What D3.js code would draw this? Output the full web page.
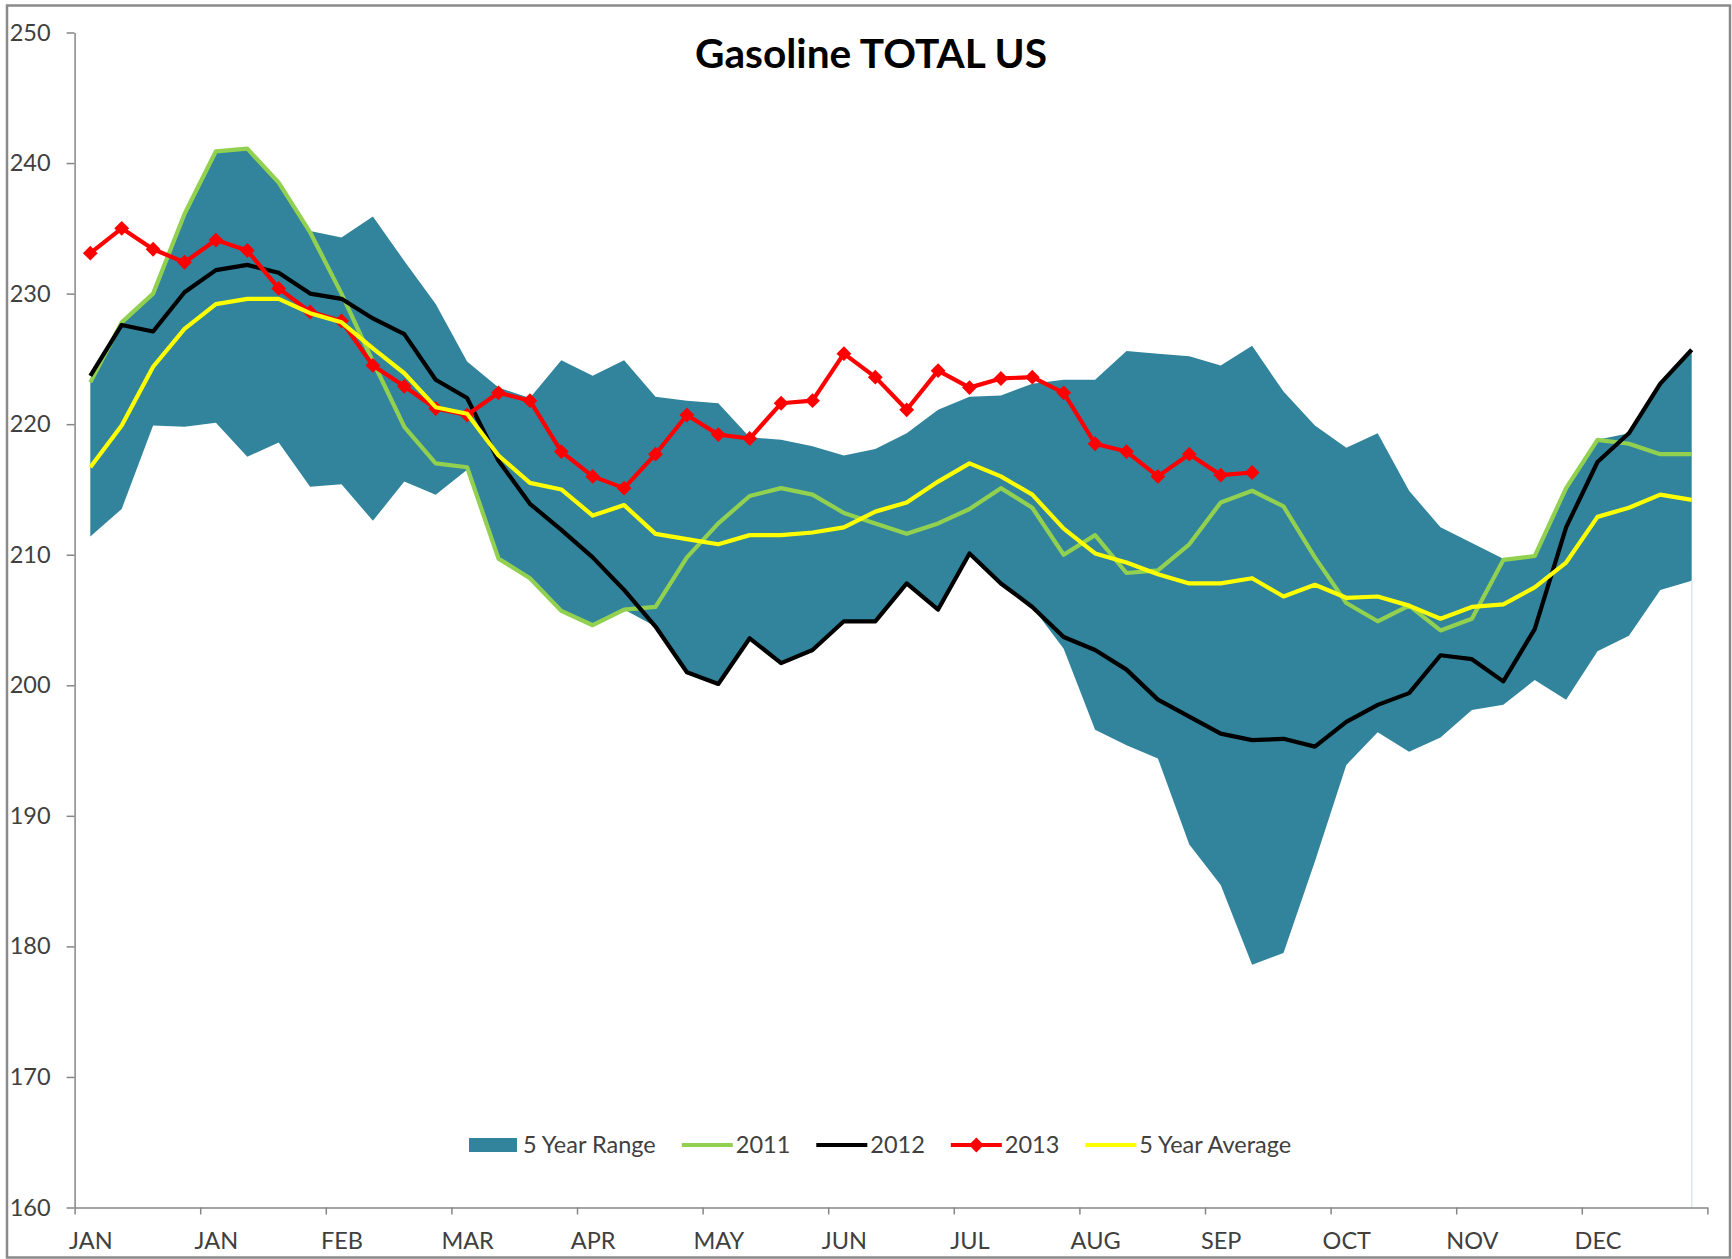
<!DOCTYPE html>
<html>
<head>
<meta charset="utf-8">
<script src="https://cdnjs.cloudflare.com/ajax/libs/d3/7.8.5/d3.min.js"></script>
<style>
body { margin: 0; background: #fff; }
svg { display: block; }
</style>
</head>
<body>
<div class="d3Graph"></div>
<script>
// month label shown every 4th week
var monthLabels = ["JAN", "JAN", "FEB", "MAR", "APR", "MAY", "JUN", "JUL", "AUG", "SEP", "OCT", "NOV", "DEC"];
var yTicks = [160, 170, 180, 190, 200, 210, 220, 230, 240, 250];

var rangeHigh = [223.3, 227.8, 230.1, 236.2, 240.9, 241.1, 238.5, 234.8, 234.3, 235.9, 232.5, 229.2, 224.8,
                 222.8, 222.0, 224.9, 223.7, 224.9, 222.1, 221.8, 221.6, 219.0, 218.8, 218.3, 217.6, 218.1,
                 219.3, 221.1, 222.1, 222.2, 223.1, 223.4, 223.4, 225.6, 225.4, 225.2, 224.5, 226.0, 222.5,
                 219.9, 218.2, 219.3, 214.9, 212.1, 210.9, 209.7, 209.9, 215.1, 218.8, 219.3, 223.1, 225.7];
var rangeLow = [211.4, 213.5, 219.9, 219.8, 220.1, 217.5, 218.6, 215.2, 215.4, 212.6, 215.6, 214.6, 216.5,
                209.7, 208.2, 205.7, 204.6, 205.8, 204.5, 201.0, 200.1, 203.6, 201.7, 202.7, 204.9, 204.9,
                207.8, 205.8, 210.1, 207.8, 206.0, 202.8, 196.6, 195.4, 194.4, 187.8, 184.7, 178.6, 179.5,
                186.5, 193.9, 196.4, 194.9, 196.0, 198.1, 198.5, 200.4, 198.9, 202.6, 203.8, 207.3, 208.0];
var y2011 = [223.2, 227.8, 230.0, 236.1, 240.9, 241.1, 238.5, 234.7, 230.0, 224.8, 219.8, 217.0, 216.7,
             209.7, 208.2, 205.7, 204.6, 205.8, 206.0, 209.8, 212.4, 214.5, 215.1, 214.6, 213.2, 212.4,
             211.6, 212.4, 213.5, 215.1, 213.6, 210.0, 211.5, 208.6, 208.8, 210.8, 214.0, 214.9, 213.7,
             209.8, 206.3, 204.9, 206.1, 204.2, 205.1, 209.6, 209.9, 215.1, 218.8, 218.5, 217.7, 217.7];
var y2012 = [223.7, 227.6, 227.1, 230.1, 231.8, 232.2, 231.6, 230.0, 229.6, 228.1, 226.9, 223.4, 222.0,
             217.2, 213.9, 211.9, 209.8, 207.3, 204.5, 201.0, 200.1, 203.6, 201.7, 202.7, 204.9, 204.9,
             207.8, 205.8, 210.1, 207.8, 206.0, 203.7, 202.7, 201.2, 198.9, 197.6, 196.3, 195.8, 195.9,
             195.3, 197.2, 198.5, 199.4, 202.3, 202.0, 200.3, 204.3, 212.1, 217.1, 219.3, 223.1, 225.7];
var y2013 = [233.1, 235.0, 233.4, 232.4, 234.1, 233.3, 230.4, 228.6, 227.9, 224.5, 222.9, 221.2, 220.7,
             222.4, 221.8, 217.9, 216.0, 215.1, 217.7, 220.7, 219.2, 218.9, 221.6, 221.8, 225.4, 223.6,
             221.1, 224.1, 222.8, 223.5, 223.6, 222.4, 218.5, 217.9, 216.0, 217.7, 216.1, 216.3];
var avg5 = [216.7, 219.9, 224.4, 227.3, 229.2, 229.6, 229.6, 228.5, 227.8, 225.8, 223.9, 221.3, 220.8,
            217.6, 215.5, 215.0, 213.0, 213.8, 211.6, 211.2, 210.8, 211.5, 211.5, 211.7, 212.1, 213.3,
            214.0, 215.6, 217.0, 216.0, 214.6, 212.0, 210.1, 209.4, 208.5, 207.8, 207.8, 208.2, 206.8,
            207.7, 206.7, 206.8, 206.1, 205.1, 206.0, 206.2, 207.5, 209.4, 212.9, 213.6, 214.6, 214.2];

var seriesNames = ["5 Year Range", "2011", "2012", "2013", "5 Year Average"];
var seriesColors = ["#31849b", "#92d050", "#000000", "#ff0000", "#ffff00"];

var width = 1732, height = 1259;
var plotLeft = 74.6, plotRight = 1707.4, plotTop = 32.5, plotBottom = 1207.5;
var nWeeks = rangeHigh.length;
var font = "Lato, 'Open Sans', sans-serif";
var labelSize = 23.5;
var lineWidth = 4.2;

var svg = d3.select(".d3Graph")
    .append("svg")
    .attr("width", width)
    .attr("height", height);

svg.append("rect")
    .attr("x", 7).attr("y", 5.5)
    .attr("width", 1723).attr("height", 1252)
    .attr("fill", "#fff")
    .attr("stroke", "#8a8a8a")
    .attr("stroke-width", 2.5);

var x = d3.scaleLinear().domain([0, nWeeks]).range([plotLeft, plotRight]);
var y = d3.scaleLinear().domain([160, 250]).range([plotBottom, plotTop]);

function cx(d, i) { return x(i + 0.5); }

// 5 year range band
var area = d3.area()
    .x(cx)
    .y0(function(d, i) { return y(rangeLow[i]); })
    .y1(function(d) { return y(d); });

svg.append("path")
    .datum(rangeHigh)
    .attr("d", area)
    .attr("fill", seriesColors[0]);

svg.append("line")
    .attr("x1", x(nWeeks - 0.5)).attr("x2", x(nWeeks - 0.5))
    .attr("y1", y(rangeLow[nWeeks - 1])).attr("y2", y(160))
    .attr("stroke", "#d6e7ee")
    .attr("stroke-width", 1.5);

// axes
var yAxis = svg.append("g")
    .attr("transform", "translate(" + plotLeft + ",0)")
    .call(d3.axisLeft(y).tickValues(yTicks).tickSize(8).tickSizeOuter(0).tickPadding(16));

var xTicks = svg.append("g")
    .attr("transform", "translate(0," + plotBottom + ")")
    .call(d3.axisBottom(x).tickValues(d3.range(0, nWeeks + 1, 4)).tickSize(7).tickSizeOuter(0).tickFormat(""));

var xLabels = svg.append("g")
    .attr("transform", "translate(0," + plotBottom + ")")
    .call(d3.axisBottom(x)
        .tickValues(monthLabels.map(function(m, k) { return k * 4 + 0.5; }))
        .tickSize(0).tickPadding(25)
        .tickFormat(function(d, k) { return monthLabels[k]; }));
xLabels.select(".domain").remove();

[yAxis, xTicks, xLabels].forEach(function(g) {
    g.selectAll("path, line").attr("stroke", "#868686").attr("stroke-width", 1.5);
    g.selectAll("text")
        .attr("font-family", font)
        .attr("font-size", labelSize)
        .attr("fill", "#404040");
});

// lines
var line = d3.line()
    .x(cx)
    .y(function(d) { return y(d); });

[y2011, y2012, y2013, avg5].forEach(function(s, k) {
    svg.append("path")
        .datum(s)
        .attr("d", line)
        .attr("fill", "none")
        .attr("stroke", seriesColors[k + 1])
        .attr("stroke-width", lineWidth)
        .attr("stroke-linejoin", "round");
    if (k == 2) {
        svg.append("g").selectAll("path")
            .data(s)
            .enter()
            .append("path")
            .attr("d", d3.symbol(d3.symbolDiamond2, 140))
            .attr("transform", function(d, i) { return "translate(" + cx(d, i) + "," + y(d) + ")"; })
            .attr("fill", seriesColors[3]);
    }
});

// title
var title = svg.append("text")
    .attr("x", 871)
    .attr("y", 68)
    .attr("text-anchor", "middle")
    .attr("font-family", font)
    .attr("font-weight", "bold")
    .attr("font-size", 40)
    .attr("fill", "#000")
    .text("Gasoline TOTAL US");
var tw = title.node().getComputedTextLength();
title.attr("font-size", 40 * 352 / tw);

// legend
var lx = 469, ly = 1145;
seriesNames.forEach(function(name, k) {
    if (k == 0) {
        svg.append("rect")
            .attr("x", lx).attr("y", ly - 7)
            .attr("width", 48).attr("height", 14)
            .attr("fill", seriesColors[0]);
    } else {
        svg.append("line")
            .attr("x1", lx).attr("x2", lx + 51)
            .attr("y1", ly).attr("y2", ly)
            .attr("stroke", seriesColors[k])
            .attr("stroke-width", lineWidth);
        if (k == 3) {
            svg.append("path")
                .attr("d", d3.symbol(d3.symbolDiamond2, 140))
                .attr("transform", "translate(" + (lx + 25.5) + "," + ly + ")")
                .attr("fill", seriesColors[3]);
        }
    }
    var t = svg.append("text")
        .attr("x", lx + 54)
        .attr("y", ly + 8)
        .attr("font-family", font)
        .attr("font-size", labelSize)
        .attr("fill", "#404040")
        .text(name);
    lx = lx + 54 + t.node().getComputedTextLength() + 26;
});
</script>
</body>
</html>
